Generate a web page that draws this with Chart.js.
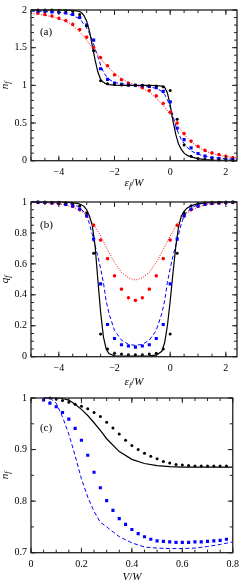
<!DOCTYPE html>
<html>
<head>
<meta charset="utf-8">
<script src="https://cdn.jsdelivr.net/npm/chart.js@4.4.0/dist/chart.umd.min.js"></script>
<style>
html, body { margin: 0; padding: 0; background: #fff; }
#wrap { position: relative; width: 245px; height: 584px; }
.panel { position: absolute; left: 0; width: 245px; }
</style>
</head>
<body>
<div id="wrap">
	<div class="panel" style="top:0;height:192px"><canvas id="chart_a"></canvas></div>
	<div class="panel" style="top:192px;height:196px"><canvas id="chart_b"></canvas></div>
	<div class="panel" style="top:388px;height:196px"><canvas id="chart_c"></canvas></div>
</div>
<script>
// ---- data: panels (a) and (b), x = eps_f / W ----
const epsMarks = [-4.75, -4.5, -4.25, -4.0, -3.75, -3.5, -3.25, -3.0, -2.75, -2.5, -2.25, -2.0, -1.75, -1.5, -1.25,
	-1.0, -0.75, -0.5, -0.25, 0, 0.25, 0.5, 0.75, 1.0, 1.25, 1.5, 1.75, 2.0, 2.25];
const epsCurve = [-5, -4.5, -4, -3.75, -3.5, -3.3, -3.2, -3.1, -3.0, -2.9, -2.8, -2.7, -2.6, -2.5, -2.4,
	-2.3, -2.2, -2.0, -1.75, -1.5, -1.25, -1.0, -0.75, -0.5, -0.3, -0.2, -0.1, 0, 0.1, 0.2,
	0.3, 0.4, 0.5, 0.6, 0.75, 1.0, 1.25, 1.5, 2.0, 2.4];

// (a) n_f
const nBlackCurve = [2.0, 2.0, 2.0, 1.999, 1.995, 1.985, 1.97, 1.93, 1.85, 1.72, 1.53, 1.34, 1.18, 1.08, 1.04,
	1.02, 1.01, 1.003, 1.0, 1.0, 1.0, 1.0, 1.0, 0.998, 0.99, 0.975, 0.9, 0.74, 0.53, 0.35,
	0.22, 0.15, 0.1, 0.074, 0.05, 0.028, 0.015, 0.008, 0.003, 0.001];
const nBlueCurve = [1.985, 1.98, 1.97, 1.955, 1.93, 1.89, 1.86, 1.81, 1.76, 1.69, 1.6, 1.49, 1.38, 1.27, 1.18,
	1.12, 1.08, 1.04, 1.02, 1.01, 1.0, 0.99, 0.98, 0.96, 0.92, 0.88, 0.81, 0.71, 0.6, 0.46,
	0.36, 0.28, 0.23, 0.18, 0.13, 0.085, 0.06, 0.042, 0.025, 0.018];
const nRedCurve = [1.955, 1.93, 1.89, 1.85, 1.79, 1.73, 1.69, 1.65, 1.6, 1.55, 1.5, 1.455, 1.41, 1.36, 1.31,
	1.27, 1.23, 1.16, 1.09, 1.04, 1.0, 0.96, 0.91, 0.83, 0.75, 0.71, 0.66, 0.61, 0.56, 0.5,
	0.45, 0.4, 0.35, 0.31, 0.25, 0.18, 0.13, 0.095, 0.055, 0.035];
const nBlackMarks = [2.0, 2.0, 2.0, 1.995, 1.99, 1.98, 1.94, 1.79, 1.46, 1.06, 1.02, 1.01, 1.005, 1.0, 1.0,
	1.0, 0.995, 0.99, 0.98, 0.93, 0.55, 0.21, 0.06, 0.03, 0.02, 0.012, 0.008, 0.005, 0.003];
const nBlueMarks = [1.985, 1.98, 1.975, 1.97, 1.96, 1.94, 1.9, 1.8, 1.6, 1.22, 1.08, 1.03, 1.015, 1.005, 1.0,
	0.995, 0.985, 0.97, 0.92, 0.78, 0.43, 0.28, 0.17, 0.095, 0.06, 0.04, 0.03, 0.02, 0.015];
const nRedMarks = [1.96, 1.94, 1.92, 1.89, 1.86, 1.81, 1.74, 1.64, 1.5, 1.37, 1.26, 1.14, 1.075, 1.03, 1.0,
	0.97, 0.93, 0.86, 0.76, 0.645, 0.5, 0.36, 0.26, 0.19, 0.138, 0.103, 0.08, 0.06, 0.04];

// (b) q_f
const qBlackCurve = [1.0, 1.0, 1.0, 0.999, 0.996, 0.99, 0.982, 0.972, 0.95, 0.91, 0.85, 0.72, 0.5, 0.29, 0.13,
	0.05, 0.02, 0.005, 0.004, 0.004, 0.004, 0.004, 0.005, 0.01, 0.035, 0.09, 0.2, 0.36, 0.54, 0.71,
	0.84, 0.91, 0.94, 0.96, 0.975, 0.99, 0.996, 0.998, 1.0, 1.0];
const qBlueCurve = [1.0, 0.999, 0.997, 0.993, 0.985, 0.97, 0.955, 0.935, 0.91, 0.86, 0.79, 0.72, 0.65, 0.57, 0.48,
	0.36, 0.28, 0.17, 0.107, 0.08, 0.073, 0.08, 0.107, 0.17, 0.28, 0.36, 0.48, 0.57, 0.65, 0.72,
	0.79, 0.86, 0.91, 0.935, 0.96, 0.985, 0.993, 0.997, 0.999, 1.0];
const qRedCurve = [0.998, 0.995, 0.988, 0.98, 0.967, 0.95, 0.94, 0.93, 0.91, 0.89, 0.867, 0.84, 0.81, 0.78, 0.745,
	0.71, 0.675, 0.61, 0.545, 0.51, 0.495, 0.51, 0.545, 0.61, 0.675, 0.71, 0.745, 0.78, 0.81, 0.84,
	0.867, 0.89, 0.91, 0.93, 0.945, 0.967, 0.98, 0.988, 0.995, 0.997];
const qBlackMarks = [1.0, 1.0, 0.999, 0.998, 0.995, 0.99, 0.975, 0.93, 0.668, 0.146, 0.05, 0.022, 0.017, 0.013, 0.012,
	0.013, 0.017, 0.022, 0.05, 0.146, 0.668, 0.93, 0.975, 0.99, 0.995, 0.998, 0.999, 1.0, 1.0];
const qBlueMarks = [0.998, 0.997, 0.994, 0.99, 0.985, 0.975, 0.955, 0.91, 0.76, 0.471, 0.208, 0.118, 0.077, 0.069, 0.062,
	0.069, 0.077, 0.118, 0.208, 0.471, 0.76, 0.91, 0.955, 0.975, 0.985, 0.99, 0.994, 0.997, 0.998];
const qRedMarks = [0.997, 0.996, 0.994, 0.99, 0.985, 0.972, 0.95, 0.91, 0.85, 0.754, 0.634, 0.523, 0.437, 0.381, 0.364,
	0.381, 0.437, 0.523, 0.634, 0.754, 0.85, 0.91, 0.95, 0.972, 0.985, 0.99, 0.994, 0.996, 0.997];

// (c) n_f vs V/W
const vCurve = [0.05, 0.075, 0.1, 0.125, 0.15, 0.175, 0.2, 0.225, 0.25, 0.275, 0.3, 0.35, 0.4, 0.45, 0.5,
	0.55, 0.6, 0.65, 0.7, 0.75, 0.8];
const vBlackCurve = [1.0, 1.0, 1.0, 0.999, 0.996, 0.988, 0.978, 0.966, 0.952, 0.937, 0.921, 0.896, 0.881, 0.873, 0.869,
	0.867, 0.866, 0.866, 0.866, 0.866, 0.866];
const vBlueCurve = [1.0, 1.0, 0.99, 0.963, 0.93, 0.888, 0.843, 0.808, 0.78, 0.759, 0.75, 0.731, 0.719, 0.711, 0.709,
	0.708, 0.708, 0.709, 0.712, 0.716, 0.721];
const vDots = [0.075, 0.1, 0.125, 0.15, 0.175, 0.2, 0.225, 0.25, 0.275, 0.3, 0.325, 0.35, 0.375, 0.4, 0.425,
	0.45, 0.475, 0.5, 0.525, 0.55, 0.575, 0.6, 0.625, 0.65, 0.675, 0.7, 0.725, 0.75, 0.775];
const vBlackMarks = [1.0, 0.998, 0.995, 0.992, 0.988, 0.984, 0.979, 0.972, 0.964, 0.953, 0.942, 0.93, 0.918, 0.908, 0.9,
	0.893, 0.887, 0.882, 0.877, 0.874, 0.871, 0.87, 0.869, 0.868, 0.868, 0.868, 0.868, 0.868, 0.868];
const vSquares = [0.05, 0.075, 0.1, 0.125, 0.15, 0.175, 0.2, 0.225, 0.25, 0.275, 0.3, 0.325, 0.35, 0.375, 0.4,
	0.425, 0.45, 0.475, 0.5, 0.525, 0.55, 0.575, 0.6, 0.625, 0.65, 0.675, 0.7, 0.725, 0.75, 0.775];
const vBlueMarks = [0.996, 0.99, 0.983, 0.972, 0.959, 0.941, 0.918, 0.889, 0.856, 0.826, 0.801, 0.782, 0.766, 0.755, 0.745,
	0.737, 0.731, 0.726, 0.723, 0.722, 0.721, 0.72, 0.72, 0.72, 0.721, 0.721, 0.722, 0.723, 0.724, 0.726];

// tick labels
const epsTicks = [-4, -2, 0, 2];
const nTicks = [0, 0.5, 1, 1.5, 2];
const qTicks = [0, 0.2, 0.4, 0.6, 0.8, 1];
const vTicks = [0, 0.2, 0.4, 0.6, 0.8];
const ncTicks = [0.7, 0.8, 0.9, 1];

const SERIF = '"Liberation Serif", "DejaVu Serif", serif';

function pts(xs, ys) {
	return xs.map((x, i) => ({ x: x, y: ys[i] }));
}

function curve(xs, ys, color, dash, width) {
	return { data: pts(xs, ys), showLine: true, pointRadius: 0, borderColor: color, borderWidth: width,
		borderDash: dash, backgroundColor: color, clip: 4 };
}

function marks(xs, ys, color, style, radius) {
	return { data: pts(xs, ys), showLine: false, pointStyle: style, pointRadius: radius,
		backgroundColor: color, borderColor: color, borderWidth: style == 'star' ? 1.1 : 0, clip: 6 };
}

// draws a run of text pieces [text, size, italic, dy] centred at 0,0
function drawPieces(ctx, pieces) {
	let total = 0;
	pieces.forEach(p => {
		ctx.font = (p[2] ? 'italic ' : '') + p[1] + 'px ' + SERIF;
		p.w = ctx.measureText(p[0]).width;
		total += p.w;
	});
	let x = -total / 2;
	pieces.forEach(p => {
		ctx.font = (p[2] ? 'italic ' : '') + p[1] + 'px ' + SERIF;
		ctx.fillText(p[0], x, p[3]);
		x += p.w;
	});
}

const framePlugin = {
	id: 'frame',
	afterDraw(chart, args, o) {
		const ctx = chart.ctx;
		const a = chart.chartArea;
		const sx = chart.scales.x, sy = chart.scales.y;
		ctx.save();
		ctx.strokeStyle = '#222';
		ctx.lineWidth = 1;
		ctx.beginPath();
		const markX = (v, len) => {
			const p = sx.getPixelForValue(v);
			ctx.moveTo(p, a.bottom); ctx.lineTo(p, a.bottom - len);
			ctx.moveTo(p, a.top); ctx.lineTo(p, a.top + len);
		};
		const markY = (v, len) => {
			const p = sy.getPixelForValue(v);
			ctx.moveTo(a.left, p); ctx.lineTo(a.left + len, p);
			ctx.moveTo(a.right, p); ctx.lineTo(a.right - len, p);
		};
		for (let k = Math.ceil(sx.min / o.xMinor - 1e-6); k * o.xMinor <= sx.max + 1e-9; k++) markX(k * o.xMinor, 3);
		for (let k = Math.ceil(sy.min / o.yMinor - 1e-6); k * o.yMinor <= sy.max + 1e-9; k++) markY(k * o.yMinor, 3);
		o.xMajor.forEach(v => markX(v, 5));
		o.yMajor.forEach(v => markY(v, 5));
		ctx.stroke();
		ctx.lineWidth = 1.3;
		ctx.strokeRect(a.left, a.top, a.right - a.left, a.bottom - a.top);

		ctx.fillStyle = '#000';
		ctx.textBaseline = 'middle';
		ctx.textAlign = 'left';
		// x title
		ctx.save();
		ctx.translate((a.left + a.right) / 2, a.bottom + o.xTitleOffset);
		drawPieces(ctx, o.xTitle);
		ctx.restore();
		// y title
		ctx.save();
		ctx.translate(5, (a.top + a.bottom) / 2);
		ctx.rotate(-Math.PI / 2);
		drawPieces(ctx, o.yTitle);
		ctx.restore();
		// panel label
		ctx.font = '11px ' + SERIF;
		ctx.textAlign = 'center';
		ctx.fillText(o.label, o.labelPos[0], o.labelPos[1]);
		ctx.restore();
	}
};

const epsTitle = [['ε', 11, true, 0], ['f', 8, true, 3], ['/', 11, false, 0], ['W', 11, true, 0]];

function makeChart(id, cfg) {
	const tickFont = { family: SERIF, size: 10 };
	const fmt = v => String(v).replace('-', '\u2212');
	return new Chart(document.getElementById(id), {
		type: 'scatter',
		data: { datasets: cfg.datasets },
		options: {
			responsive: true,
			maintainAspectRatio: false,
			animation: false,
			layout: { padding: { top: cfg.top, right: 8, left: 0, bottom: 0 } },
			plugins: { legend: { display: false }, tooltip: { enabled: false }, frame: cfg.frame },
			scales: {
				x: {
					type: 'linear', min: cfg.xMin, max: cfg.xMax,
					grid: { display: false, drawTicks: false }, border: { display: false },
					ticks: { font: tickFont, color: '#000', padding: 6, autoSkip: false, maxRotation: 0, callback: fmt },
					afterBuildTicks: s => { s.ticks = cfg.xTicks.map(v => ({ value: v })); },
					afterFit: s => { s.height = cfg.xHeight; }
				},
				y: {
					type: 'linear', min: cfg.yMin, max: cfg.yMax,
					grid: { display: false, drawTicks: false }, border: { display: false },
					ticks: { font: tickFont, color: '#000', padding: 4, autoSkip: false, callback: fmt },
					afterBuildTicks: s => { s.ticks = cfg.yTicks.map(v => ({ value: v })); },
					afterFit: s => { s.width = 31; }
				}
			}
		},
		plugins: [framePlugin]
	});
}

makeChart('chart_a', {
	top: 5.7, xHeight: 31.3, xMin: -5, xMax: 2.4, yMin: 0, yMax: 2, xTicks: epsTicks, yTicks: nTicks,
	datasets: [
		marks(epsMarks, nBlackMarks, '#000', 'circle', 1.5),
		marks(epsMarks, nBlueMarks, '#0000ff', 'rect', 2.2),
		marks(epsMarks, nRedMarks, '#ff0000', 'star', 1.7),
		curve(epsCurve, nBlackCurve, '#000', [], 1.2),
		curve(epsCurve, nBlueCurve, '#0000ff', [4, 2.5], 1),
		curve(epsCurve, nRedCurve, '#ff0000', [1, 1.5], 1)
	],
	frame: { xMinor: 0.5, yMinor: 0.1, xMajor: epsTicks, yMajor: nTicks, xTitleOffset: 22.5,
		xTitle: epsTitle, yTitle: [['n', 11, true, 0], ['f', 8, true, 3]], label: '(a)', labelPos: [46, 32] }
});

makeChart('chart_b', {
	top: 9, xHeight: 31.3, xMin: -5, xMax: 2.4, yMin: 0, yMax: 1, xTicks: epsTicks, yTicks: qTicks,
	datasets: [
		marks(epsMarks, qBlackMarks, '#000', 'circle', 1.5),
		marks(epsMarks, qBlueMarks, '#0000ff', 'rect', 2.2),
		marks(epsMarks, qRedMarks, '#ff0000', 'star', 1.7),
		curve(epsCurve, qBlackCurve, '#000', [], 1.2),
		curve(epsCurve, qBlueCurve, '#0000ff', [4, 2.5], 1),
		curve(epsCurve, qRedCurve, '#ff0000', [1, 1.5], 1)
	],
	frame: { xMinor: 0.5, yMinor: 0.05, xMajor: epsTicks, yMajor: qTicks, xTitleOffset: 25.8,
		xTitle: epsTitle, yTitle: [['q', 11, true, 0], ['f', 8, true, 3]], label: '(b)', labelPos: [46.5, 33] }
});

makeChart('chart_c', {
	top: 9.3, xHeight: 31.3, xMin: 0, xMax: 0.8, yMin: 0.7, yMax: 1, xTicks: vTicks, yTicks: ncTicks,
	datasets: [
		marks(vDots, vBlackMarks, '#000', 'circle', 1.5),
		marks(vSquares, vBlueMarks, '#0000ff', 'rect', 2.2),
		curve(vCurve, vBlackCurve, '#000', [], 1.2),
		curve(vCurve, vBlueCurve, '#0000ff', [4, 2.5], 1)
	],
	frame: { xMinor: 0.05, yMinor: 0.05, xMajor: vTicks, yMajor: ncTicks, xTitleOffset: 24.5,
		xTitle: [['V', 11, true, 0], ['/', 11, false, 0], ['W', 11, true, 0]],
		yTitle: [['n', 11, true, 0], ['f', 8, true, 3]], label: '(c)', labelPos: [46, 40] }
});
</script>
</body>
</html>
